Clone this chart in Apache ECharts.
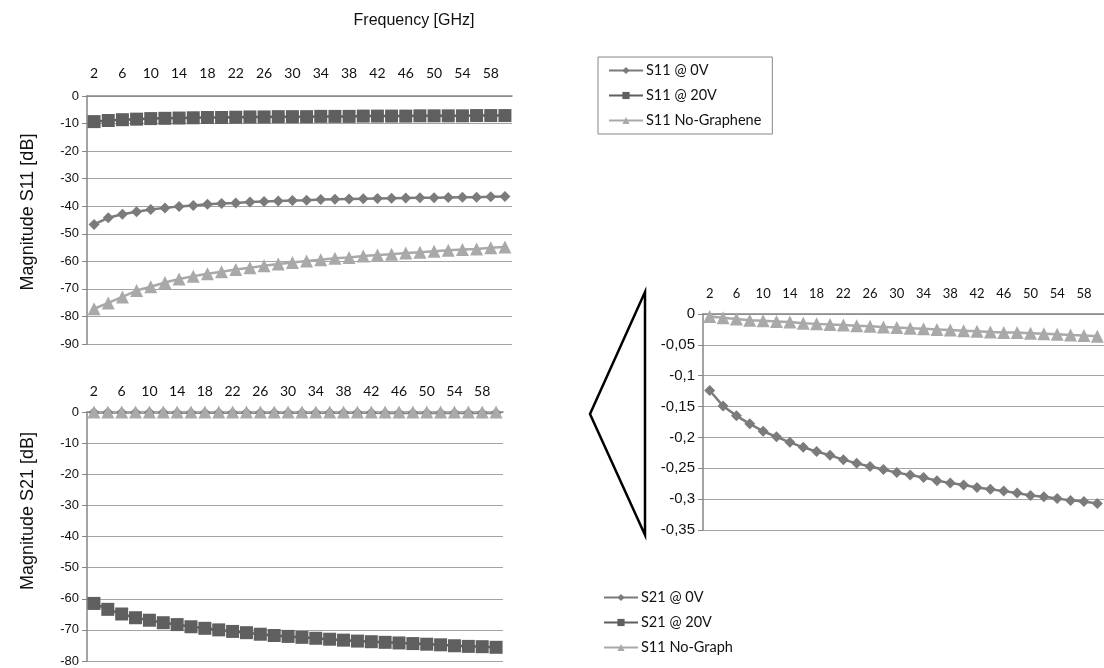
<!DOCTYPE html>
<html>
<head>
<meta charset="utf-8">
<title>S11 / S21</title>
<script src="https://cdn.jsdelivr.net/npm/echarts@6/dist/echarts.min.js"></script>
<style>
    html, body { margin: 0; padding: 0; background: #fff; }
    #chart { width: 1104px; height: 668px; }
</style>
</head>
<body>
<div id="chart"></div>
<script>
var freq = ['2','4','6','8','10','12','14','16','18','20','22','24','26','28','30',
    '32','34','36','38','40','42','44','46','48','50','52','54','56','58','60'];

var s11_0V = [-46.6, -44.2, -42.9, -42.0, -41.2, -40.6, -40.1, -39.7, -39.3, -39.0,
    -38.8, -38.5, -38.3, -38.1, -37.9, -37.8, -37.6, -37.5, -37.4, -37.3,
    -37.2, -37.1, -37.0, -36.9, -36.9, -36.8, -36.7, -36.7, -36.6, -36.5];
var s11_20V = [-9.3, -8.9, -8.6, -8.4, -8.2, -8.1, -8.0, -7.9, -7.8, -7.8,
    -7.7, -7.6, -7.6, -7.5, -7.5, -7.5, -7.4, -7.4, -7.4, -7.3,
    -7.3, -7.3, -7.3, -7.2, -7.2, -7.2, -7.2, -7.1, -7.1, -7.1];
var s11_noG = [-77.2, -75.1, -72.9, -70.6, -69.2, -67.7, -66.4, -65.4, -64.5, -63.8,
    -63.0, -62.3, -61.6, -61.0, -60.4, -59.9, -59.4, -58.9, -58.6, -58.1,
    -57.7, -57.4, -57.0, -56.7, -56.3, -56.0, -55.7, -55.5, -55.1, -54.8];

var s21_0V = [-0.124, -0.149, -0.165, -0.178, -0.190, -0.199, -0.208, -0.216, -0.223, -0.229,
    -0.236, -0.242, -0.247, -0.252, -0.257, -0.261, -0.265, -0.270, -0.274, -0.277,
    -0.281, -0.284, -0.287, -0.290, -0.294, -0.296, -0.299, -0.302, -0.304, -0.307];
var s21_20V = [-61.5, -63.4, -64.9, -66.1, -66.9, -67.7, -68.3, -69.0, -69.5, -70.0,
    -70.5, -70.9, -71.4, -71.8, -72.1, -72.4, -72.7, -73.0, -73.3, -73.6,
    -73.8, -74.0, -74.2, -74.4, -74.6, -74.8, -75.1, -75.3, -75.4, -75.6];
var s21_noG = [-0.004, -0.006, -0.008, -0.010, -0.011, -0.012, -0.013, -0.015, -0.016, -0.017,
    -0.018, -0.019, -0.020, -0.021, -0.022, -0.023, -0.024, -0.025, -0.026, -0.027,
    -0.028, -0.029, -0.030, -0.030, -0.031, -0.032, -0.033, -0.034, -0.035, -0.036];

var names11 = ['S11 @ 0V', 'S11 @ 20V', 'S11 No-Graphene'];
var names21 = ['S21 @ 0V', 'S21 @ 20V', 'S11 No-Graph'];

var C_0V = '#7b7b7b', C_20V = '#5f5f5f', C_NOG = '#a9a9a9';
var AXIS = '#868686', GRIDLINE = '#a3a3a3';

var chart = echarts.init(document.getElementById('chart'));

// main category axis on top, ticks at the category borders
function topAxis(gridIndex, margin, fontSize) {
    return {
        type: 'category', gridIndex: gridIndex, position: 'top', data: freq,
        boundaryGap: true,
        axisLine: { onZero: false, lineStyle: { color: AXIS, width: 1.5 } },
        axisTick: { inside: true, length: 3, interval: 0, lineStyle: { color: AXIS } },
        axisLabel: { interval: 1, margin: margin, fontFamily: 'Lato', fontSize: fontSize, color: '#111' },
        splitLine: { show: false }
    };
}
// second axis only for the small ticks in the middle of each category
function midTicks(gridIndex) {
    return {
        type: 'category', gridIndex: gridIndex, position: 'top', data: freq,
        boundaryGap: true,
        axisLine: { show: false },
        axisTick: { inside: true, length: 3, interval: 0, alignWithLabel: true, lineStyle: { color: AXIS } },
        axisLabel: { show: false },
        splitLine: { show: false }
    };
}
function valAxis(gridIndex, min, step, fontSize, fmt) {
    return {
        type: 'value', gridIndex: gridIndex, min: min, max: 0, interval: step,
        axisLine: { show: true, lineStyle: { color: AXIS, width: 1.5 } },
        axisTick: { show: true, length: 5, lineStyle: { color: AXIS } },
        axisLabel: { margin: 8, fontFamily: 'Liberation Sans', fontSize: fontSize, color: '#111', formatter: fmt },
        splitLine: { show: true, lineStyle: { color: GRIDLINE, width: 1 } }
    };
}
function line(name, data, xi, yi, symbol, size, color) {
    return {
        name: name, type: 'line', data: data, xAxisIndex: xi, yAxisIndex: yi,
        symbol: symbol, symbolSize: size, showAllSymbol: true,
        lineStyle: { color: color, width: 2.5 },
        itemStyle: { color: color },
        emphasis: { disabled: true }
    };
}

var option = {
    animation: false,
    title: {
        text: 'Frequency [GHz]', left: 409, top: 8, textAlign: 'center',
        textStyle: { fontFamily: 'Liberation Sans', fontSize: 16, fontWeight: 'normal', color: '#111' }
    },
    grid: [
        { left: 87, top: 96, width: 425, height: 248 },
        { left: 87, top: 412, width: 416, height: 249 },
        { left: 703, top: 314, width: 403, height: 216 }
    ],
    xAxis: [topAxis(0, 16, 14), midTicks(0), topAxis(1, 14, 14), midTicks(1), topAxis(2, 14, 13), midTicks(2)],
    yAxis: [
        valAxis(0, -90, 10, 13),
        valAxis(1, -80, 10, 13),
        valAxis(2, -0.35, 0.05, 15, function (v) { return String(+v.toFixed(2)).replace('.', ','); })
    ],
    legend: [
        {
            data: names11, orient: 'vertical', left: 598, top: 57,
            padding: [6, 11, 6, 10], itemGap: 10, itemWidth: 34, itemHeight: 9,
            borderColor: AXIS, borderWidth: 1,
            textStyle: { fontFamily: 'Lato', fontSize: 14.5, color: '#111', padding: [0, 0, 0, -2] }
        },
        {
            data: names21, orient: 'vertical', left: 593, top: 590,
            padding: [0, 10, 0, 10], itemGap: 10, itemWidth: 34, itemHeight: 9,
            textStyle: { fontFamily: 'Lato', fontSize: 14.5, color: '#111', padding: [0, 0, 0, -2] }
        }
    ],
    series: [
        line('S11 @ 0V', s11_0V, 0, 0, 'diamond', 11, C_0V),
        line('S11 @ 20V', s11_20V, 0, 0, 'rect', 13, C_20V),
        line('S11 No-Graphene', s11_noG, 0, 0, 'triangle', 13, C_NOG),
        line('S21 @ 0V', s21_0V, 2, 1, 'diamond', 11, C_0V),
        line('S21 @ 20V', s21_20V, 2, 1, 'rect', 13, C_20V),
        line('S11 No-Graph', s21_noG, 2, 1, 'triangle', 13, C_NOG),
        line('S21 @ 0V', s21_0V, 4, 2, 'diamond', 11, C_0V),
        line('S11 No-Graph', s21_noG, 4, 2, 'triangle', 13, C_NOG)
    ],
    graphic: [
        {
            type: 'text', x: 28, y: 212, rotation: Math.PI / 2,
            style: { text: 'Magnitude S11 [dB]', fontFamily: 'Liberation Sans', fontSize: 18,
                fill: '#111', align: 'center', verticalAlign: 'middle' }
        },
        {
            type: 'text', x: 28, y: 511, rotation: Math.PI / 2,
            style: { text: 'Magnitude S21 [dB]', fontFamily: 'Liberation Sans', fontSize: 18,
                fill: '#111', align: 'center', verticalAlign: 'middle' }
        },
        // zoom callout
        {
            type: 'polygon',
            shape: { points: [[645, 292], [590, 414], [645, 535]] },
            style: { fill: 'none', stroke: '#000', lineWidth: 2.5, lineJoin: 'miter' }
        }
    ]
};

chart.setOption(option);
</script>
</body>
</html>
